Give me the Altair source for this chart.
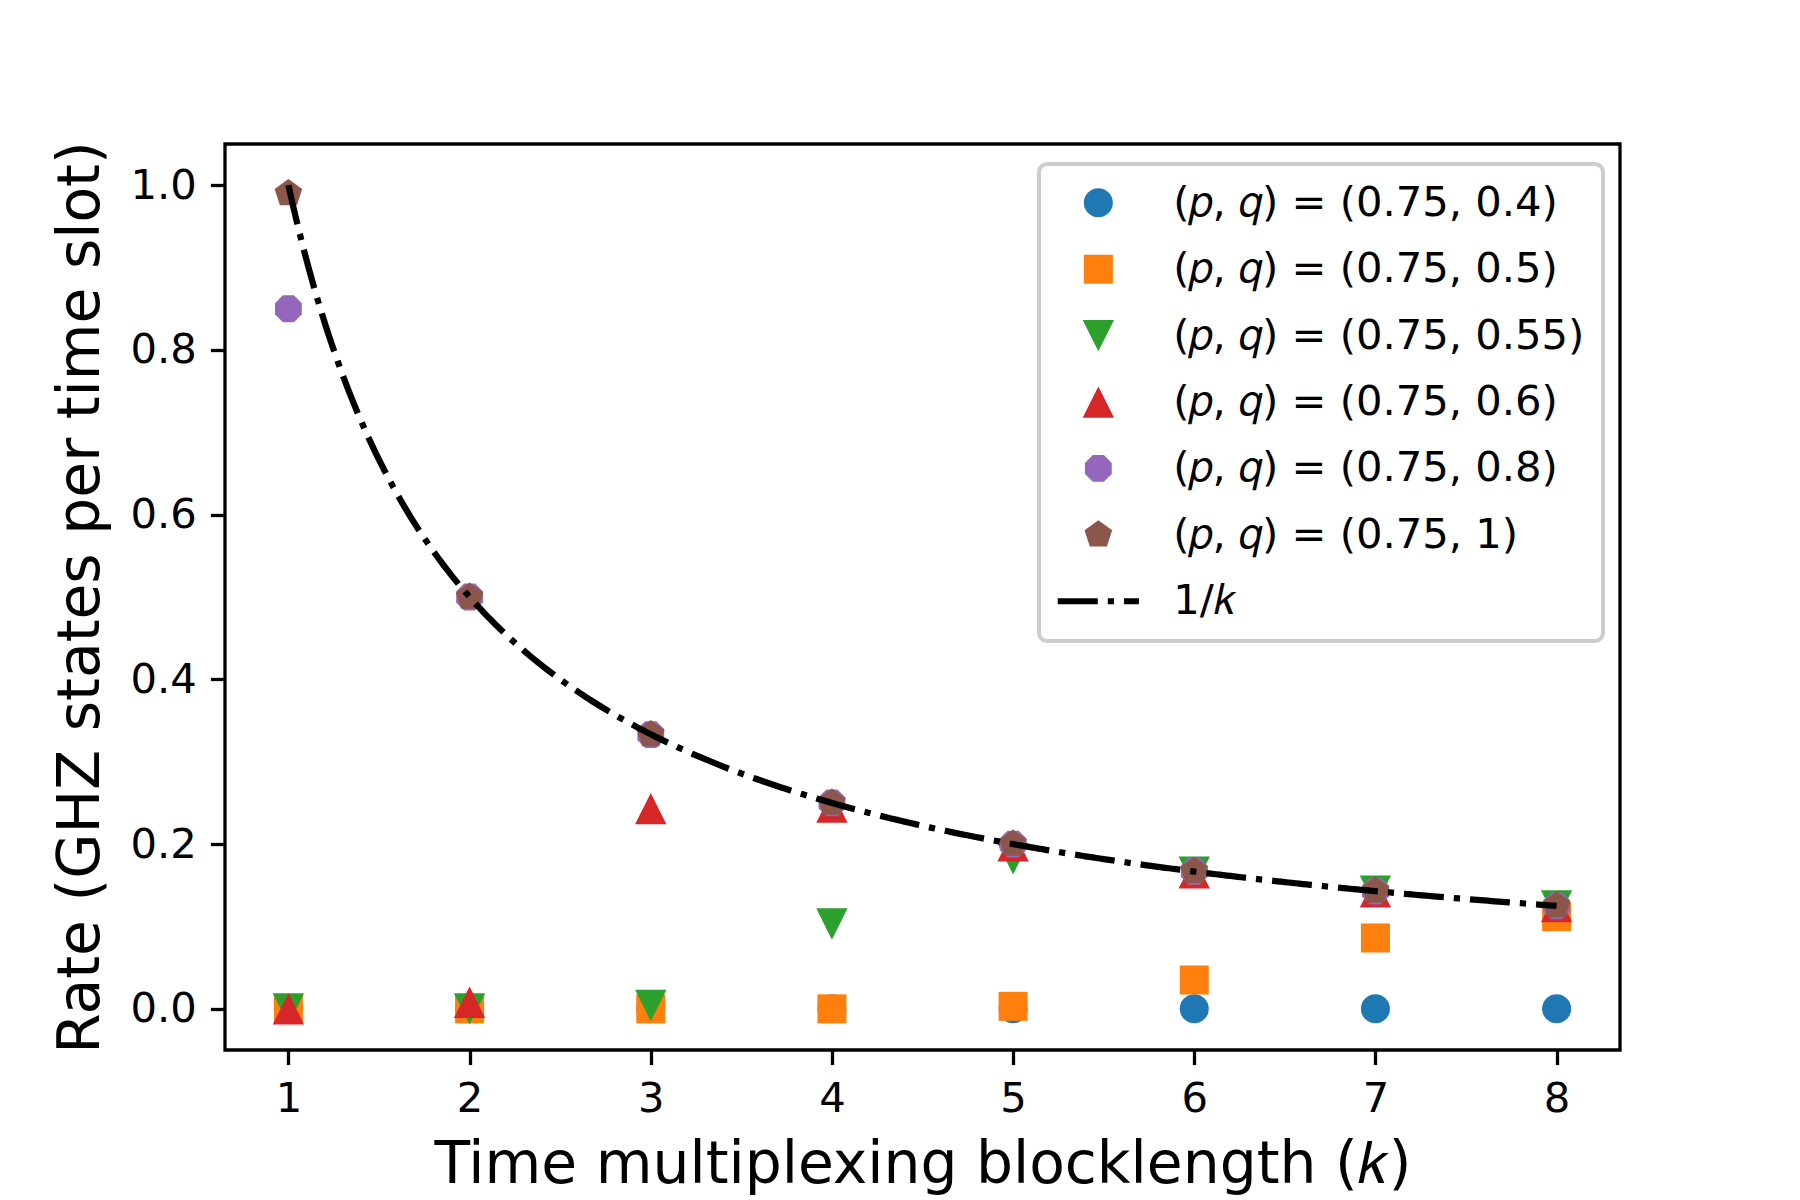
import altair as alt
import pandas as pd

# ---- data ----
k_values = [1, 2, 3, 4, 5, 6, 7, 8]

series_labels = [
    "(𝑝, 𝑞) = (0.75, 0.4)",
    "(𝑝, 𝑞) = (0.75, 0.5)",
    "(𝑝, 𝑞) = (0.75, 0.55)",
    "(𝑝, 𝑞) = (0.75, 0.6)",
    "(𝑝, 𝑞) = (0.75, 0.8)",
    "(𝑝, 𝑞) = (0.75, 1)",
]
line_label = "1/𝑘"

rate_q040 = [0.0, 0.0, 0.0, 0.0, 0.0, 0.0, 0.0, 0.0]
rate_q050 = [0.0, 0.0, 0.0, 0.0, 0.003, 0.035, 0.086, 0.112]
rate_q055 = [0.0, 0.0, 0.004, 0.103, 0.182, 0.166, 0.143, 0.125]
rate_q060 = [0.0, 0.008, 0.243, 0.245, 0.198, 0.165, 0.142, 0.124]
rate_q080 = [0.85, 0.5, 0.333, 0.25, 0.2, 0.167, 0.143, 0.125]
rate_q100 = [0.99, 0.5, 0.333, 0.25, 0.2, 0.167, 0.143, 0.125]
all_rates = [rate_q040, rate_q050, rate_q055, rate_q060, rate_q080, rate_q100]

y_ticks = [0.0, 0.2, 0.4, 0.6, 0.8, 1.0]

colors = ["#1f77b4", "#ff7f0e", "#2ca02c", "#d62728", "#9467bd", "#8c564b", "#000000"]
shapes = [
    "circle",
    "M-1,-1H1V1H-1Z",
    "M-1.08,-1.08L1.08,-1.08L0,1.08Z",
    "M0,-1.08L-1.08,1.08L1.08,1.08Z",
    "M0.924,0.383L0.383,0.924L-0.383,0.924L-0.924,0.383L-0.924,-0.383L-0.383,-0.924L0.383,-0.924L0.924,-0.383Z",
    "M0,-1L0.951,-0.309L0.588,0.809L-0.588,0.809L-0.951,-0.309Z",
    "M-2.8,-0.215H-0.04V0.215H-2.8Z M0.65,-0.215H1.08V0.215H0.65Z M1.77,-0.215H2.8V0.215H1.77Z",
]

rows = []
for label, vals in zip(series_labels, all_rates):
    for k, v in zip(k_values, vals):
        rows.append({"k": k, "rate": v, "series": label})
df = pd.DataFrame(rows)

x_enc = alt.X(
    "k:Q",
    scale=alt.Scale(domain=[0.65, 8.35], nice=False, zero=False),
    axis=alt.Axis(values=k_values, format="d", title="Time multiplexing blocklength (𝑘)",
                  labelPadding=14, titlePadding=16, labelFlush=False),
)
y_enc = alt.Y(
    "rate:Q",
    scale=alt.Scale(domain=[-0.05, 1.05], nice=False, zero=False),
    axis=alt.Axis(values=y_ticks, format=".1f", title="Rate (GHZ states per time slot)",
                  labelPadding=14, titlePadding=20, labelFlush=False),
)

legend = alt.Legend(
    orient="none", legendX=814, legendY=20, padding=18,
    symbolOffset=20.5, labelOffset=54, rowPadding=23.4,
    symbolSize=841, symbolStrokeWidth=0, symbolOpacity=1,
    labelFontSize=41.7, labelFont="DejaVu Sans", labelColor="black", labelLimit=2000,
    strokeColor="#cccccc", fillColor="rgba(255,255,255,0.8)", cornerRadius=8,
)

domain_all = series_labels + [line_label]

points = alt.Chart(df).mark_point(filled=True, opacity=1, size=841).encode(
    x=x_enc,
    y=y_enc,
    color=alt.Color("series:N", title=None,
                    scale=alt.Scale(domain=domain_all, range=colors), legend=legend),
    shape=alt.Shape("series:N", title=None,
                    scale=alt.Scale(domain=domain_all, range=shapes), legend=legend),
)

curve = (
    alt.Chart(alt.sequence(1, 8.001, 0.02, as_="k"))
    .transform_calculate(rate="1/datum.k")
    .mark_line(color="black", strokeWidth=6.25, strokeDash=[40, 10, 6.25, 10], strokeCap="butt")
    .encode(x=x_enc, y=y_enc)
)

chart = (
    alt.layer(points, curve)
    .properties(
        width=1395, height=906,
        autosize=alt.AutoSizeParams(type="none"),
        padding={"left": 217, "top": 136, "right": 160, "bottom": 150},
    )
    .configure(font="DejaVu Sans")
    .configure_view(stroke="black", strokeWidth=3.3)
    .configure_axis(
        domain=False, grid=False,
        tickColor="black", tickWidth=3.3, tickSize=14.6,
        labelFont="DejaVu Sans", labelFontSize=41.7, labelColor="black",
        titleFont="DejaVu Sans", titleFontSize=58.3, titleFontWeight="normal", titleColor="black",
    )
    .configure_legend(strokeWidth=4)
)

chart.save("out.html", embed_options={"renderer": "svg", "actions": False})
